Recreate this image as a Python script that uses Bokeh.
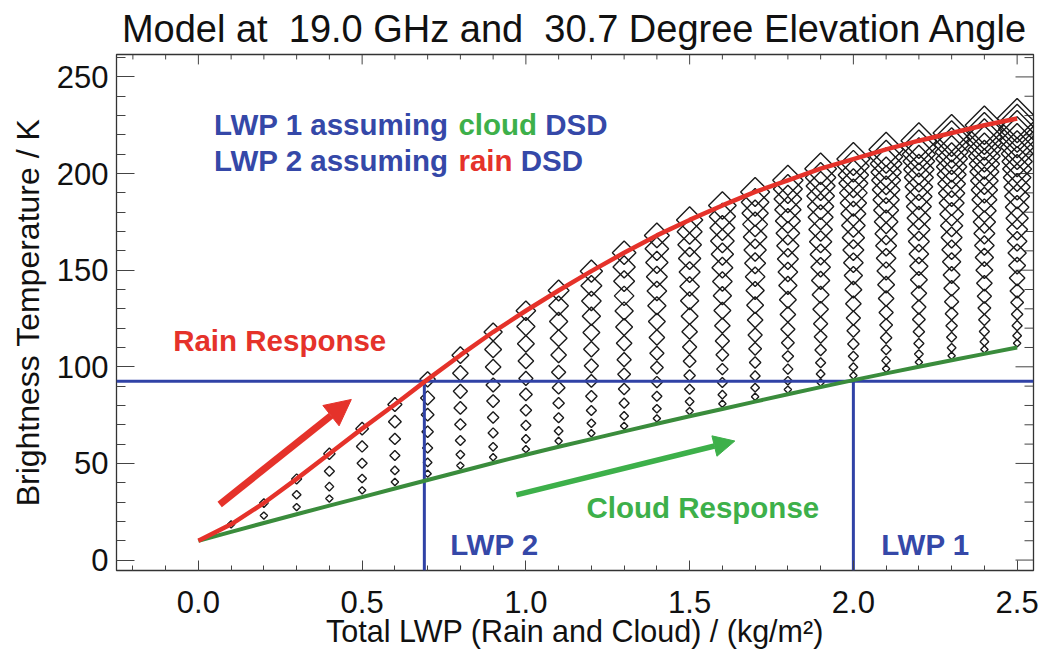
import math
from bokeh.plotting import figure
from bokeh.models import Range1d, FixedTicker, PrintfTickFormatter, Label, Arrow, NormalHead, ColumnDataSource
from bokeh.embed import file_html
from bokeh.resources import INLINE

# ---------------- data ----------------
LWP_TOTAL = [0.0, 0.1, 0.2, 0.3, 0.4, 0.5, 0.6, 0.7, 0.8, 0.9, 1.0, 1.1, 1.2,
             1.3, 1.4, 1.5, 1.6, 1.7, 1.8, 1.9, 2.0, 2.1, 2.2, 2.3, 2.4, 2.5]

# all liquid as rain (red curve)
TB_RAIN_ONLY = [10.0, 18.5, 29.5, 42.0, 55.0, 68.0, 80.5, 93.5, 106.0, 118.0, 129.0,
                139.5, 149.5, 159.0, 168.0, 176.0, 183.5, 190.5, 196.5, 202.5, 207.5,
                212.5, 217.0, 221.0, 225.0, 228.5]
# all liquid as cloud (green line)
TB_CLOUD_ONLY = [10.0, 14.6, 19.2, 23.7, 28.2, 32.6, 37.0, 41.4, 45.8, 50.2, 54.5,
                 58.6, 62.6, 66.6, 70.5, 74.4, 78.2, 82.0, 85.8, 89.5, 93.1, 96.6,
                 100.0, 103.4, 106.7, 110.0]

# diamonds: fixed rain LWP (0.1 .. 2.5), rest of the total LWP as cloud
TB_RAIN_01 = [18.5, 23.0, 27.4, 31.8, 36.1, 40.4, 44.7, 48.9, 53.2, 57.4, 61.6, 65.6, 69.4,
              73.3, 77.1, 80.9, 84.5, 88.2, 91.9, 95.5, 99.0, 102.4, 105.7, 109.0, 112.2]
TB_RAIN_02 = [29.5, 33.8, 38.0, 42.2, 46.4, 50.5, 54.6, 58.6, 62.7, 66.8, 70.8, 74.6, 78.3,
              82.0, 85.6, 89.2, 92.8, 96.3, 99.8, 103.2, 106.6, 109.8, 113.0, 116.1]
TB_RAIN_03 = [42.0, 46.0, 50.1, 54.1, 58.0, 61.9, 65.8, 69.7, 73.6, 77.4, 81.2, 84.8, 88.4,
              91.9, 95.3, 98.8, 102.1, 105.5, 108.8, 112.1, 115.3, 118.3, 121.3]
TB_RAIN_04 = [55.0, 58.8, 62.7, 66.4, 70.2, 73.8, 77.5, 81.2, 84.8, 88.5, 92.1, 95.5, 98.8,
              102.2, 105.4, 108.7, 111.8, 115.0, 118.2, 121.2, 124.3, 127.2]
TB_RAIN_05 = [68.0, 71.6, 75.2, 78.7, 82.3, 85.7, 89.2, 92.7, 96.1, 99.6, 102.9, 106.2, 109.3,
              112.4, 115.5, 118.6, 121.6, 124.5, 127.5, 130.4, 133.3]
TB_RAIN_06 = [80.5, 83.9, 87.3, 90.6, 94.0, 97.2, 100.5, 103.7, 107.0, 110.2, 113.4, 116.4,
              119.4, 122.3, 125.2, 128.1, 130.9, 133.7, 136.5, 139.2]
TB_RAIN_07 = [93.5, 96.7, 99.9, 103.0, 106.1, 109.1, 112.2, 115.2, 118.2, 121.3, 124.2, 127.1,
              129.8, 132.6, 135.3, 138.0, 140.6, 143.2, 145.9]
TB_RAIN_08 = [106.0, 109.0, 111.9, 114.8, 117.7, 120.6, 123.4, 126.2, 129.1, 131.9, 134.7,
              137.3, 139.9, 142.5, 145.0, 147.5, 150.0, 152.4]
TB_RAIN_09 = [118.0, 120.8, 123.5, 126.2, 128.9, 131.6, 134.2, 136.8, 139.5, 142.1, 144.7,
              147.2, 149.6, 152.0, 154.3, 156.6, 158.9]
TB_RAIN_10 = [129.0, 131.6, 134.1, 136.7, 139.2, 141.6, 144.1, 146.6, 149.0, 151.5, 153.9,
              156.2, 158.4, 160.6, 162.8, 165.0]
TB_RAIN_11 = [139.5, 141.9, 144.3, 146.6, 149.0, 151.3, 153.6, 155.8, 158.1, 160.4, 162.7,
              164.8, 166.9, 169.0, 171.0]
TB_RAIN_12 = [149.5, 151.7, 154.0, 156.1, 158.3, 160.4, 162.6, 164.7, 166.8, 168.9, 171.0,
              173.0, 174.9, 176.9]
TB_RAIN_13 = [159.0, 161.1, 163.1, 165.1, 167.2, 169.1, 171.1, 173.1, 175.0, 177.0, 178.9,
              180.8, 182.6]
TB_RAIN_14 = [168.0, 169.9, 171.8, 173.7, 175.5, 177.4, 179.2, 181.0, 182.9, 184.7, 186.5, 188.2]
TB_RAIN_15 = [176.0, 177.8, 179.5, 181.3, 183.0, 184.7, 186.4, 188.1, 189.8, 191.5, 193.1]
TB_RAIN_16 = [183.5, 185.1, 186.8, 188.4, 190.0, 191.6, 193.2, 194.7, 196.3, 197.9]
TB_RAIN_17 = [190.5, 192.0, 193.6, 195.0, 196.5, 198.0, 199.5, 200.9, 202.4]
TB_RAIN_18 = [196.5, 197.9, 199.3, 200.7, 202.1, 203.5, 204.9, 206.2]
TB_RAIN_19 = [202.5, 203.8, 205.1, 206.4, 207.7, 209.0, 210.3]
TB_RAIN_20 = [207.5, 208.7, 210.0, 211.2, 212.4, 213.6]
TB_RAIN_21 = [212.5, 213.6, 214.8, 215.9, 217.0]
TB_RAIN_22 = [217.0, 218.1, 219.1, 220.2]
TB_RAIN_23 = [221.0, 222.0, 223.0]
TB_RAIN_24 = [225.0, 225.9]
TB_RAIN_25 = [228.5]

TB_THRESHOLD = 92.5      # horizontal blue line
LWP_2 = 0.69             # rain DSD retrieval
LWP_1 = 2.0              # cloud DSD retrieval

X_TICKS = [0.0, 0.5, 1.0, 1.5, 2.0, 2.5]
Y_TICKS = [0, 50, 100, 150, 200, 250]

# ---------------- styling ----------------
FONT = "Liberation Sans"
RED = "#e5322a"
GREEN_LINE = "#3a8c3c"
GREEN_TXT = "#3db04a"
BLUE = "#3042a6"
BLUE_TXT = "#3548a8"
TICK = "#444444"
X_MIN, X_MAX = -0.25, 2.55
Y_MIN, Y_MAX = -5.4, 261.6
W, H = 1040, 650
BL, BR, BT, BB = 116, 7, 53, 77
PX_X = (W - BL - BR) / (X_MAX - X_MIN)   # pixels per x unit
PX_Y = (H - BT - BB) / (Y_MAX - Y_MIN)   # pixels per y unit

mixed = [TB_RAIN_01, TB_RAIN_02, TB_RAIN_03, TB_RAIN_04, TB_RAIN_05, TB_RAIN_06, TB_RAIN_07,
         TB_RAIN_08, TB_RAIN_09, TB_RAIN_10, TB_RAIN_11, TB_RAIN_12, TB_RAIN_13, TB_RAIN_14,
         TB_RAIN_15, TB_RAIN_16, TB_RAIN_17, TB_RAIN_18, TB_RAIN_19, TB_RAIN_20, TB_RAIN_21,
         TB_RAIN_22, TB_RAIN_23, TB_RAIN_24, TB_RAIN_25]

dx, dy, dsize = [], [], []
for j, series in enumerate(mixed, start=1):
    rain = LWP_TOTAL[j]
    for m, tb in enumerate(series):
        dx.append(LWP_TOTAL[j + m])
        dy.append(tb)
        dsize.append((6.0 + 13.5 * rain) / math.sqrt(2))
diamonds = ColumnDataSource(dict(x=dx, y=dy, s=dsize))

p = figure(width=W, height=H, output_backend="svg", toolbar_location=None,
           x_range=Range1d(X_MIN, X_MAX), y_range=Range1d(Y_MIN, Y_MAX),
           min_border_left=BL, min_border_right=BR, min_border_top=BT, min_border_bottom=BB)
p.xgrid.visible = False
p.ygrid.visible = False
p.outline_line_color = "#333333"
p.outline_line_width = 1.3
p.background_fill_color = "white"
p.border_fill_color = "white"

p.title.text = "Model at\u00a0 19.0 GHz and\u00a0 30.7 Degree Elevation Angle"
p.title.text_font = FONT
p.title.text_font_size = "38px"
p.title.text_font_style = "normal"
p.title.text_color = "#111111"
p.title.align = "center"
p.title.standoff = 10

x_minor = [round(-0.2 + 0.1 * i, 1) for i in range(28)]
y_minor = [10 * i for i in range(27)]

def style(ax, ticks, minor, maj, mnr, fmt, label_size):
    ax.ticker = FixedTicker(ticks=ticks, minor_ticks=minor)
    ax.major_tick_in = maj
    ax.major_tick_out = 0
    ax.minor_tick_in = mnr
    ax.minor_tick_out = 0
    ax.major_tick_line_color = TICK
    ax.minor_tick_line_color = TICK
    ax.axis_line_color = None
    ax.formatter = PrintfTickFormatter(format=fmt)
    ax.major_label_text_font = FONT
    ax.major_label_text_font_size = "31px"
    ax.major_label_text_color = "#111111"
    ax.axis_label_text_font = FONT
    ax.axis_label_text_font_size = label_size
    ax.axis_label_text_font_style = "normal"
    ax.axis_label_text_color = "#111111"

xb = p.xaxis[0]
style(xb, X_TICKS, x_minor, 10, 5, "%.1f", "30.5px")
xb.axis_label = "Total LWP (Rain and Cloud) / (kg/m²)"
xb.major_label_standoff = 20
xb.axis_label_standoff = -2

yl = p.yaxis[0]
style(yl, Y_TICKS, y_minor, 18, 9, "%d", "32px")
yl.axis_label = "Brightness Temperature / K"
yl.major_label_standoff = 8
yl.axis_label_standoff = 8

# inward ticks on the top and right frame edges (no labels there)
tx, ty0, ty1 = [], [], []
for t in x_minor:
    ln = (10 if t in X_TICKS else 5) / PX_Y
    tx.append(t); ty0.append(Y_MAX); ty1.append(Y_MAX - ln)
p.segment(x0=tx, y0=ty0, x1=tx, y1=ty1, line_color=TICK, line_width=1)
rx0, rx1, ry = [], [], []
for t in y_minor:
    ln = (18 if t in Y_TICKS else 9) / PX_X
    ry.append(t); rx0.append(X_MAX); rx1.append(X_MAX - ln)
p.segment(x0=rx0, y0=ry, x1=rx1, y1=ry, line_color=TICK, line_width=1)

# diamonds
p.scatter("x", "y", source=diamonds, marker="square", size="s", angle=math.pi / 4,
          fill_color=None, line_color="#1a1a1a", line_width=1.4)

# blue retrieval lines
p.segment(x0=[X_MIN, LWP_2, LWP_1], y0=[TB_THRESHOLD, TB_THRESHOLD, TB_THRESHOLD],
          x1=[X_MAX, LWP_2, LWP_1], y1=[TB_THRESHOLD, Y_MIN, Y_MIN],
          line_color=BLUE, line_width=3)

# responses
p.line(LWP_TOTAL, TB_CLOUD_ONLY, line_color=GREEN_LINE, line_width=4)
p.line(LWP_TOTAL, TB_RAIN_ONLY, line_color=RED, line_width=4.5)

# arrows
p.add_layout(Arrow(end=NormalHead(size=26, fill_color=RED, line_color=RED),
                   x_start=0.065, y_start=28.8, x_end=0.467, y_end=83.1,
                   line_color=RED, line_width=7))
p.add_layout(Arrow(end=NormalHead(size=21, fill_color=GREEN_TXT, line_color=GREEN_TXT),
                   x_start=0.971, y_start=33.7, x_end=1.638, y_end=61.6,
                   line_color=GREEN_TXT, line_width=5.5))

def lab(x, y, text, color, xoff=0):
    p.add_layout(Label(x=x, y=y, x_offset=xoff, text=text, text_color=color,
                       text_font=FONT, text_font_style="bold", text_font_size="29.5px",
                       text_baseline="middle", text_align="left"))

lab(0.048, 225.4, "LWP 1 assuming", BLUE_TXT)
lab(0.048, 225.4, "cloud", GREEN_TXT, 244.3)
lab(0.048, 225.4, "DSD", BLUE_TXT, 331.2)
lab(0.048, 206.5, "LWP 2 assuming", BLUE_TXT)
lab(0.048, 206.5, "rain", RED, 244.3)
lab(0.048, 206.5, "DSD", BLUE_TXT, 306.6)
lab(-0.077, 113.7, "Rain Response", RED)
lab(1.185, 27.2, "Cloud Response", GREEN_TXT)
lab(0.769, 8.0, "LWP 2", BLUE_TXT)
lab(2.085, 8.0, "LWP 1", BLUE_TXT)

open("out.html", "w").write(file_html(p, INLINE))
